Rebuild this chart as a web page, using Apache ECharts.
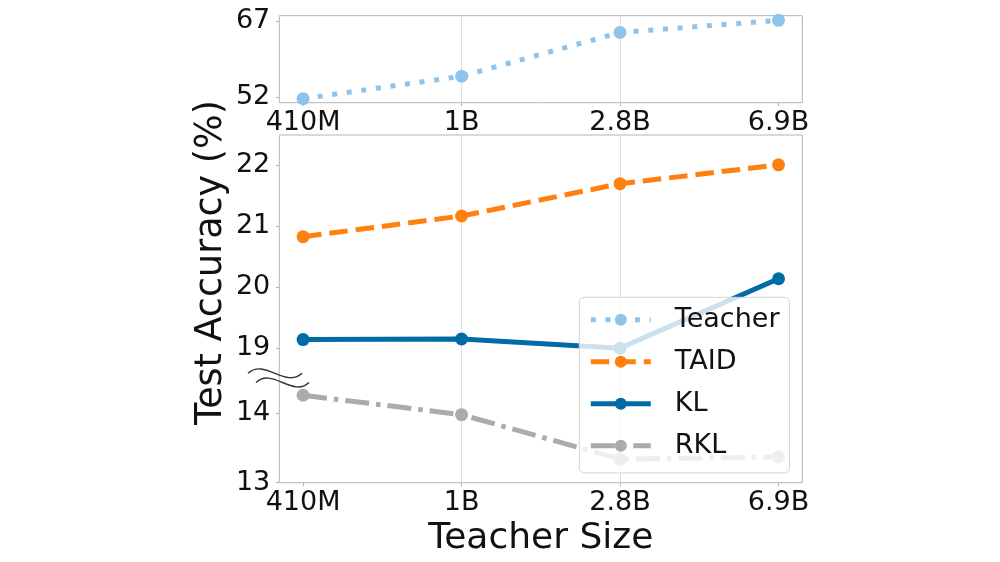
<!DOCTYPE html>
<html>
<head>
<meta charset="utf-8">
<script src="https://cdn.jsdelivr.net/npm/echarts@6/dist/echarts.min.js"></script>
<style>
html,body{margin:0;padding:0;background:#fff;}
#c{width:1000px;height:562px;}
</style>
</head>
<body>
<div id="c"></div>
<script>
// ---- data ----
const sizes = ['410M', '1B', '2.8B', '6.9B'];
const teacher = [51.7, 56.1, 64.7, 67.1];
const taid = [20.83, 21.17, 21.70, 22.01];
const kl = [19.14, 19.15, 19.00, 20.14];
const rkl = [14.26, 13.98, 13.34, 13.37];
const topTicks = [52, 67];
const midTicks = [19, 20, 21, 22];
const lowTicks = [13, 14];
const xIdx = [0, 1, 2, 3];

// ---- layout ----
const FONT = 'DejaVu Sans';
const L = 279.3, R = 1000 - 802.3;
const spine = '#b4b4b4', gridC = '#dedede';
const g0 = {top: 15.7, h: 87};
const g1 = {top: 135, h: 243.6};
const g2 = {top: 378.6, h: 104.1};

const pts = arr => arr.map((v, i) => [xIdx[i], v]);
const fmtX = v => (Number.isInteger(v) && sizes[v] !== undefined) ? sizes[v] : '';

function xAxis(gi, showLabel, extra) {
  return Object.assign({
    type: 'value', gridIndex: gi, min: -0.15, max: 3.15,
    minInterval: 1, maxInterval: 1,
    axisLine: {show: false, onZero: false},
    axisTick: {show: showLabel, length: 3.5, customValues: xIdx, lineStyle: {color: spine, width: 1}},
    axisLabel: {show: showLabel, customValues: xIdx, formatter: fmtX, fontFamily: FONT, fontSize: 27, color: '#111', margin: 7},
    splitLine: {show: true, showMinLine: false, showMaxLine: false, lineStyle: {color: gridC, width: 1}}
  }, extra || {});
}
function yAxis(gi, min, max, ticks) {
  return {
    type: 'value', gridIndex: gi, min: min, max: max,
    axisLine: {show: false, onZero: false},
    axisTick: {show: true, length: 3.5, customValues: ticks, lineStyle: {color: spine, width: 1}},
    axisLabel: {show: true, customValues: ticks, fontFamily: FONT, fontSize: 27, color: '#111', margin: 9},
    splitLine: {show: false}
  };
}

function line(name, data, xi, yi, color, dash) {
  return {
    name: name, type: 'line', xAxisIndex: xi, yAxisIndex: yi, data: pts(data),
    symbol: 'circle', symbolSize: 13, showSymbol: true,
    itemStyle: {color: color},
    lineStyle: {color: color, width: 5, type: dash, cap: 'butt'},
    emphasis: {disabled: true}, z: 3
  };
}

const chart = echarts.init(document.getElementById('c'), null, {renderer: 'canvas'});

// squiggle (axis-break mark) decoration
const sq = (x0, y0, w) => ({
  type: 'bezierCurve', z: 10,
  shape: {x1: x0, y1: y0, cpx1: x0 + w * 0.3, cpy1: y0 - 15.5, cpx2: x0 + w * 0.7, cpy2: y0 + 15.5, x2: x0 + w, y2: y0},
  style: {stroke: '#333', lineWidth: 1.4, fill: null}
});

chart.setOption({
  animation: false,
  backgroundColor: '#fff',
  textStyle: {fontFamily: FONT},
  grid: [
    {left: L, right: R, top: g0.top, height: g0.h, show: true, borderColor: spine, borderWidth: 1, backgroundColor: 'transparent'},
    {left: L, right: R, top: g1.top, height: g1.h},
    {left: L, right: R, top: g2.top, height: g2.h},
    {left: L, right: R, top: g1.top, height: g1.h + g2.h, show: true, borderColor: spine, borderWidth: 1, backgroundColor: 'transparent'}
  ],
  xAxis: [
    xAxis(0, true),
    xAxis(1, false),
    xAxis(2, true, {name: 'Teacher Size', nameLocation: 'middle', nameGap: 38,
      nameTextStyle: {fontFamily: FONT, fontSize: 36, color: '#111'}}),
    {type: 'value', gridIndex: 3, show: false, min: 0, max: 1}
  ],
  yAxis: [
    yAxis(0, 50.9, 68, topTicks),
    yAxis(1, 18.5, 22.5, midTicks),
    yAxis(2, 13, 14.5, lowTicks),
    {type: 'value', gridIndex: 3, show: false, min: 0, max: 1}
  ],
  legend: {
    orient: 'vertical', left: 579.3, top: 297.3,
    padding: [9, 10, 13.6, 9],
    itemWidth: 60, itemHeight: 15, itemGap: 15,
    backgroundColor: 'rgba(255,255,255,0.8)', borderColor: '#d4d4d4', borderWidth: 1, borderRadius: 5,
    lineStyle: {width: 5},
    textStyle: {fontFamily: FONT, fontSize: 27, color: '#111', lineHeight: 26, padding: [0, 0, 0, 19]},
    data: ['Teacher', 'TAID', 'KL', 'RKL'],
    z: 20
  },
  graphic: [
    {type: 'text', x: 212, y: 262.5, rotation: Math.PI / 2, z: 10,
     style: {text: 'Test Accuracy (%)', fontFamily: FONT, fontSize: 36.5, fill: '#111', align: 'center', verticalAlign: 'middle'}},
    sq(248, 373.3, 54),
    sq(256, 382.5, 53)
  ],
  series: [
    line('Teacher', teacher, 0, 0, '#8fc4ea', [5, 9.7]),
    line('TAID', taid, 1, 1, '#ff800e', [18.5, 8]),
    line('KL', kl, 1, 1, '#006ba4', 'solid'),
    line('RKL', rkl, 2, 2, '#ababab', [24, 7, 4.5, 7])
  ]
});
</script>
</body>
</html>
